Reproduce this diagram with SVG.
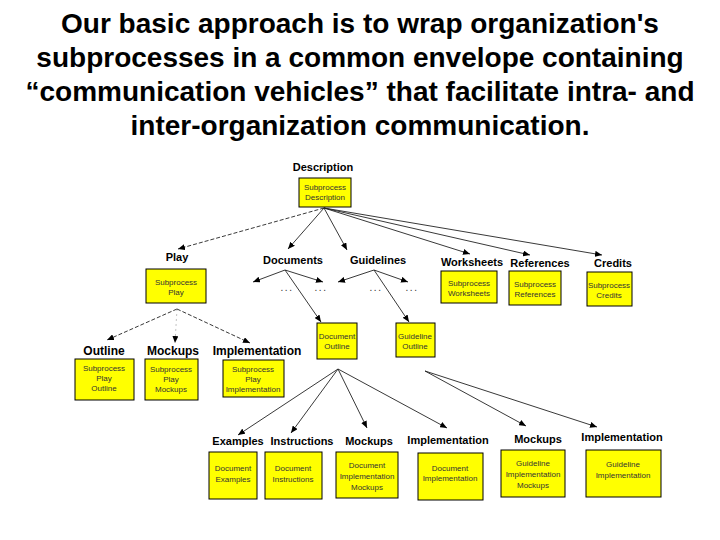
<svg xmlns="http://www.w3.org/2000/svg" width="720" height="540" viewBox="0 0 720 540">
<style>
.title{font-family:"Liberation Sans",Arial,sans-serif;font-weight:bold;font-size:28px;fill:#000;text-anchor:middle}
.lbl{font-family:"Liberation Sans",Arial,sans-serif;font-weight:bold;font-size:11px;fill:#000;text-anchor:middle}
.lbl3{font-family:"Liberation Sans",Arial,sans-serif;font-weight:bold;font-size:12px;fill:#000;text-anchor:middle}
.box{fill:#ffff00;stroke:#000;stroke-width:1}
.bt{font-family:"Liberation Sans",Arial,sans-serif;font-size:8px;fill:#333;text-anchor:middle}
.dots{font-family:"Liberation Sans",Arial,sans-serif;font-size:10px;fill:#333;text-anchor:middle;letter-spacing:1.5px}
.c{stroke:#222;stroke-width:0.9;fill:none;marker-end:url(#ah)}
.d{stroke:#222;stroke-width:0.9;fill:none;stroke-dasharray:4,2;marker-end:url(#ah)}
.f{stroke:#999;stroke-width:0.6;fill:none;stroke-dasharray:2,3;marker-end:url(#ah)}
</style>
<defs>
<marker id="ah" markerUnits="userSpaceOnUse" markerWidth="8" markerHeight="6" refX="7" refY="3" orient="auto">
<path d="M0,0 L7,3 L0,6 z" fill="#000"/>
</marker>
</defs>
<rect width="720" height="540" fill="#fff"/>
<g id="title">
<text class="title" x="360" y="33">Our basic approach is to wrap organization's</text>
<text class="title" x="360" y="67">subprocesses in a common envelope containing</text>
<text class="title" x="360" y="101">“communication vehicles” that facilitate intra- and</text>
<text class="title" x="360" y="135">inter-organization communication.</text>
</g>
<g id="connectors">
<line class="d" x1="324" y1="208" x2="178" y2="249"/>
<line class="c" x1="324" y1="208" x2="288" y2="249"/>
<line class="c" x1="324" y1="208" x2="347" y2="250"/>
<line class="c" x1="324" y1="208" x2="470" y2="254"/>
<line class="c" x1="324" y1="208" x2="530" y2="255"/>
<line class="c" x1="324" y1="208" x2="602" y2="255"/>
<line class="c" x1="285" y1="270" x2="253" y2="282"/>
<line class="c" x1="285" y1="270" x2="323" y2="282"/>
<line class="c" x1="285" y1="270" x2="321" y2="322"/>
<line class="c" x1="374" y1="270" x2="338" y2="282"/>
<line class="c" x1="374" y1="270" x2="408" y2="282"/>
<line class="c" x1="374" y1="270" x2="409" y2="322"/>
<line class="d" x1="177" y1="309" x2="107" y2="340"/>
<line class="f" x1="177" y1="309" x2="175" y2="343"/>
<line class="d" x1="177" y1="309" x2="250" y2="343"/>
<line class="c" x1="338" y1="369" x2="238" y2="435"/>
<line class="c" x1="338" y1="369" x2="291" y2="433"/>
<line class="c" x1="338" y1="369" x2="367" y2="428"/>
<line class="c" x1="338" y1="369" x2="447" y2="428"/>
<line class="c" x1="425" y1="371" x2="526" y2="426"/>
<line class="c" x1="425" y1="371" x2="597" y2="427"/>
</g>
<g id="description">
<text class="lbl" x="323" y="171">Description</text>
<rect class="box" x="299" y="178" width="52" height="29"/>
<text class="bt" x="325" y="190">Subprocess</text>
<text class="bt" x="325" y="200">Description</text>
</g>
<g id="play">
<text class="lbl" x="177" y="261">Play</text>
<rect class="box" x="146" y="269" width="60" height="34"/>
<text class="bt" x="176" y="285">Subprocess</text>
<text class="bt" x="176" y="295">Play</text>
</g>
<g id="documents">
<text class="lbl" x="293" y="264">Documents</text>
<text class="dots" x="287" y="291">...</text>
<text class="dots" x="321" y="291">...</text>
</g>
<g id="guidelines">
<text class="lbl" x="378" y="264">Guidelines</text>
<text class="dots" x="376" y="291">...</text>
<text class="dots" x="412" y="291">...</text>
</g>
<g id="worksheets">
<text class="lbl" x="472" y="266">Worksheets</text>
<rect class="box" x="441" y="271" width="56" height="32"/>
<text class="bt" x="469" y="286">Subprocess</text>
<text class="bt" x="469" y="296">Worksheets</text>
</g>
<g id="references">
<text class="lbl" x="540" y="267">References</text>
<rect class="box" x="509" y="271" width="52" height="34"/>
<text class="bt" x="535" y="287">Subprocess</text>
<text class="bt" x="535" y="297">References</text>
</g>
<g id="credits">
<text class="lbl" x="613" y="267">Credits</text>
<rect class="box" x="587" y="272" width="45" height="34"/>
<text class="bt" x="609" y="288">Subprocess</text>
<text class="bt" x="609" y="298">Credits</text>
</g>
<g id="outline">
<text class="lbl3" x="104" y="355">Outline</text>
<rect class="box" x="75" y="359" width="59" height="41"/>
<text class="bt" x="104" y="371">Subprocess</text>
<text class="bt" x="104" y="381">Play</text>
<text class="bt" x="104" y="391">Outline</text>
</g>
<g id="mockups">
<text class="lbl3" x="173" y="355">Mockups</text>
<rect class="box" x="145" y="359" width="53" height="41"/>
<text class="bt" x="171" y="372">Subprocess</text>
<text class="bt" x="171" y="382">Play</text>
<text class="bt" x="171" y="392">Mockups</text>
</g>
<g id="implementation">
<text class="lbl3" x="257" y="355">Implementation</text>
<rect class="box" x="223" y="360" width="61" height="37"/>
<text class="bt" x="253" y="372">Subprocess</text>
<text class="bt" x="253" y="382">Play</text>
<text class="bt" x="253" y="392">Implementation</text>
</g>
<g id="document-outline">
<rect class="box" x="317" y="323" width="40" height="36"/>
<text class="bt" x="337" y="339">Document</text>
<text class="bt" x="337" y="349">Outline</text>
</g>
<g id="guideline-outline">
<rect class="box" x="396" y="323" width="39" height="34"/>
<text class="bt" x="415" y="339">Guideline</text>
<text class="bt" x="415" y="349">Outline</text>
</g>
<g id="examples">
<text class="lbl" x="238" y="445">Examples</text>
<rect class="box" x="209" y="452" width="48" height="47"/>
<text class="bt" x="233" y="471">Document</text>
<text class="bt" x="233" y="482">Examples</text>
</g>
<g id="instructions">
<text class="lbl" x="302" y="445">Instructions</text>
<rect class="box" x="265" y="452" width="57" height="47"/>
<text class="bt" x="293" y="471">Document</text>
<text class="bt" x="293" y="482">Instructions</text>
</g>
<g id="doc-mockups">
<text class="lbl" x="369" y="445">Mockups</text>
<rect class="box" x="336" y="452" width="62" height="46"/>
<text class="bt" x="367" y="468">Document</text>
<text class="bt" x="367" y="479">Implementation</text>
<text class="bt" x="367" y="490">Mockups</text>
</g>
<g id="doc-implementation">
<text class="lbl" x="448" y="444">Implementation</text>
<rect class="box" x="418" y="453" width="65" height="47"/>
<text class="bt" x="450" y="471">Document</text>
<text class="bt" x="450" y="481">Implementation</text>
</g>
<g id="guide-mockups">
<text class="lbl" x="538" y="443">Mockups</text>
<rect class="box" x="501" y="450" width="64" height="47"/>
<text class="bt" x="533" y="466">Guideline</text>
<text class="bt" x="533" y="477">Implementation</text>
<text class="bt" x="533" y="488">Mockups</text>
</g>
<g id="guide-implementation">
<text class="lbl" x="622" y="441">Implementation</text>
<rect class="box" x="586" y="450" width="75" height="47"/>
<text class="bt" x="623" y="467">Guideline</text>
<text class="bt" x="623" y="478">Implementation</text>
</g>
</svg>
